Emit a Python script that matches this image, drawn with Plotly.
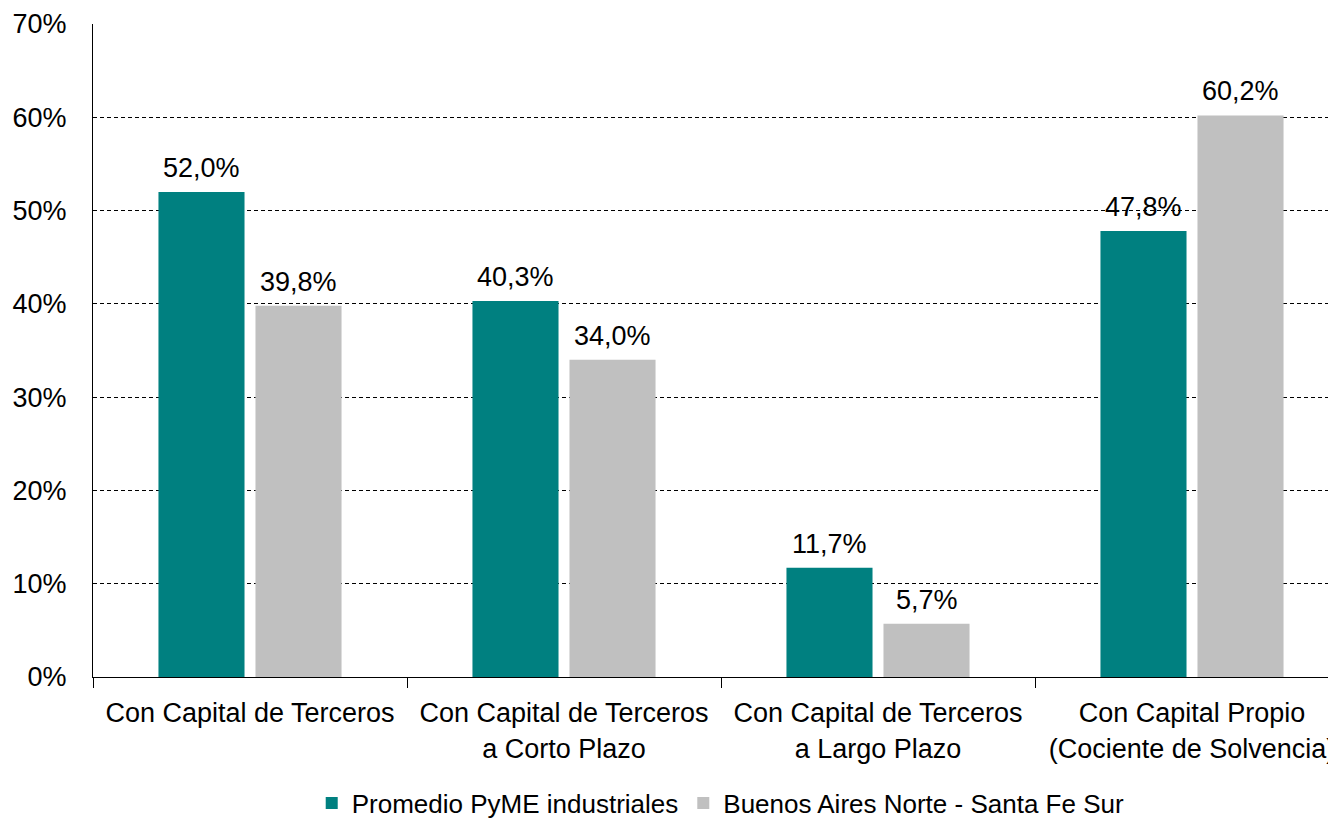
import plotly.graph_objects as go

# Categories and values (percent)
categories = [
    "Con Capital de Terceros",
    "Con Capital de Terceros<br>a Corto Plazo",
    "Con Capital de Terceros<br>a Largo Plazo",
    "Con Capital Propio<br>(Cociente de Solvencia)",
]
pyme_values = [52.0, 40.3, 11.7, 47.8]
region_values = [39.8, 34.0, 5.7, 60.2]
series_names = ["Promedio PyME industriales", "Buenos Aires Norte - Santa Fe Sur"]
y_ticks = [0, 10, 20, 30, 40, 50, 60, 70]


def fmt(v):
    return f"{v:.1f}%".replace(".", ",")


FONT = "Liberation Sans, Arial, sans-serif"

fig = go.Figure()
fig.add_trace(go.Bar(
    x=categories, y=pyme_values, name=series_names[0],
    marker=dict(color="#008080", line=dict(width=0)),
))
fig.add_trace(go.Bar(
    x=categories, y=region_values, name=series_names[1],
    marker=dict(color="#C0C0C0", line=dict(width=0)),
))

# value labels above bars, shifted to each bar of the group
for values, shift in [(pyme_values, -48.5), (region_values, 48.5)]:
    for cat, v in zip(categories, values):
        fig.add_annotation(
            x=cat, y=v, text=fmt(v), showarrow=False,
            xanchor="center", yanchor="bottom", xshift=shift, yshift=7,
            font=dict(size=27, color="black", family=FONT),
        )

# page body adds an 8px offset, so the figure is a bit smaller than the window
fig.update_layout(
    width=1328, height=813,
    margin=dict(l=85, r=0, t=16, b=144, autoexpand=False),
    paper_bgcolor="white", plot_bgcolor="white",
    font=dict(family=FONT, size=27, color="black"),
    barmode="group", bargap=0.382, bargroupgap=0.113,
    showlegend=True,
    legend=dict(orientation="h", x=0.505, xanchor="center", y=-0.193, yanchor="middle",
                font=dict(size=26), itemwidth=30, tracegroupgap=0),
)
fig.update_xaxes(
    range=[-0.5, 3.4586], automargin=False,
    showline=True, linecolor="black", linewidth=1,
    ticks="outside", tickson="boundaries", ticklen=10, tickcolor="black",
    ticklabelstandoff=12,
    showgrid=False, tickfont=dict(size=27),
)
fig.update_yaxes(
    range=[0, 70], tickvals=y_ticks, ticktext=[f"{t}%" for t in y_ticks],
    automargin=False,
    showline=True, linecolor="black", linewidth=1,
    showgrid=True, gridcolor="black", gridwidth=1, griddash="4px,3px",
    zeroline=False, ticks="", ticklabelstandoff=20, tickfont=dict(size=27),
)

fig.write_html("out.html")
